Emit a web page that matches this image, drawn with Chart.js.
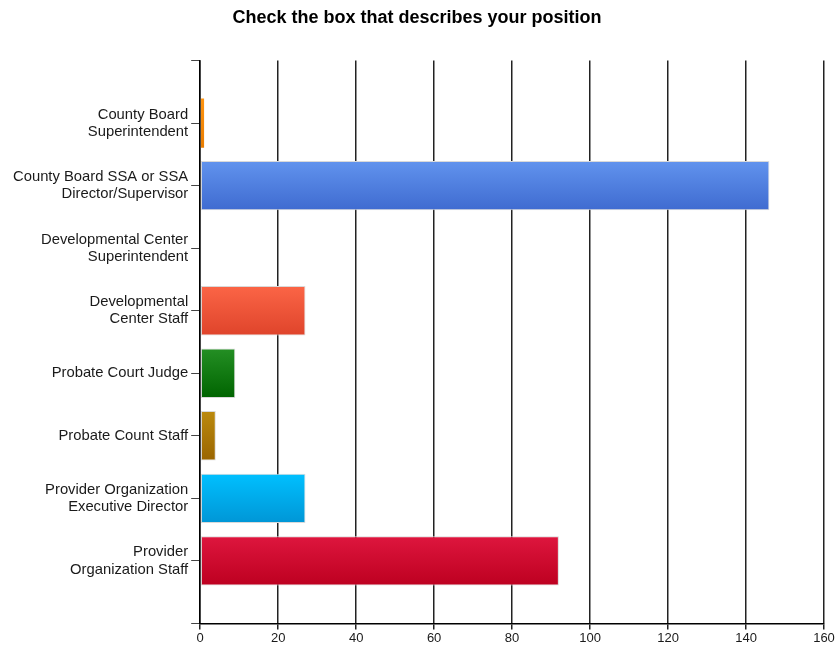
<!DOCTYPE html>
<html>
<head>
<meta charset="utf-8">
<title>Check the box that describes your position</title>
<script src="https://cdn.jsdelivr.net/npm/chart.js@4/dist/chart.umd.min.js"></script>
<style>
  html, body { margin: 0; padding: 0; background: #fff; }
  canvas { display: block; }
</style>
</head>
<body>
<canvas id="chart" width="838" height="647"></canvas>
<script>
// Survey responses: respondent position
const categories = [
  ['County Board', 'Superintendent'],
  ['County Board SSA or SSA', 'Director/Supervisor'],
  ['Developmental Center', 'Superintendent'],
  ['Developmental', 'Center Staff'],
  'Probate Court Judge',
  'Probate Count Staff',
  ['Provider Organization', 'Executive Director'],
  ['Provider', 'Organization Staff']
];
const counts = [1, 146, 0, 27, 9, 4, 27, 92];

// Value axis range
const xMin = 0;
const xMax = 160;
const xStep = 20;

// Per-bar gradient colours (top -> bottom)
const topColors = ['#ff9410', '#6193ee', '#f5f5f5', '#fb6546', '#248f24', '#bb8a0e', '#00c0ff', '#de163e'];
const bottomColors = ['#e87c00', '#3f6bd0', '#e0e0e0', '#df442b', '#006400', '#9a6500', '#0096d6', '#bd0020'];

// The category axis runs edge to edge with an empty slot at each end
const axisLabels = ['', ...categories, ''];
const axisData = [null, ...counts, null];

const BAR_PCT = 0.79;

function barGradient(ctx) {
  const i = ctx.dataIndex - 1;
  if (i < 0 || i >= counts.length) return 'transparent';
  const chart = ctx.chart;
  const ys = chart.scales && chart.scales.y;
  if (!chart.chartArea || !ys) return topColors[i];
  const yc = ys.getPixelForValue(ctx.dataIndex);
  const half = Math.abs(ys.getPixelForValue(1) - ys.getPixelForValue(0)) * BAR_PCT / 2;
  const g = chart.ctx.createLinearGradient(0, yc - half, 0, yc + half);
  g.addColorStop(0, topColors[i]);
  g.addColorStop(1, bottomColors[i]);
  return g;
}

// Thin bars get no outline so their fill stays visible
function barBorder(ctx) {
  const v = ctx.raw;
  if (!v) return 0;
  return v < 3 ? 0 : 1;
}

const FONT = "'Liberation Sans', Arial, Helvetica, sans-serif";

new Chart(document.getElementById('chart'), {
  type: 'bar',
  data: {
    labels: axisLabels,
    datasets: [{
      data: axisData,
      backgroundColor: barGradient,
      borderColor: '#d9d9d9',
      borderWidth: barBorder,
      borderSkipped: false,
      categoryPercentage: 1,
      barPercentage: BAR_PCT
    }]
  },
  options: {
    indexAxis: 'y',
    responsive: false,
    animation: false,
    devicePixelRatio: 1,
    layout: { padding: { left: 10, right: 14, top: 0, bottom: 0 } },
    plugins: {
      legend: { display: false },
      tooltip: { enabled: false },
      title: {
        display: true,
        text: 'Check the box that describes your position',
        color: '#000',
        font: { family: FONT, size: 18, weight: 'bold' },
        padding: { top: 7, bottom: 32 }
      }
    },
    scales: {
      x: {
        type: 'linear',
        min: xMin,
        max: xMax,
        ticks: {
          stepSize: xStep,
          color: '#1a1a1a',
          font: { family: FONT, size: 13 },
          padding: 1
        },
        grid: {
          color: '#222',
          lineWidth: 1.5,
          drawTicks: true,
          tickLength: 6,
          tickColor: '#222'
        },
        border: { display: true, color: '#000', width: 1.5 }
      },
      y: {
        type: 'category',
        offset: false,
        ticks: {
          autoSkip: false,
          color: '#1a1a1a',
          font: { family: FONT, size: 14.8, lineHeight: 1.17 },
          padding: 3
        },
        grid: {
          offset: false,
          drawOnChartArea: false,
          drawTicks: true,
          tickLength: 9,
          tickColor: '#444'
        },
        border: { display: true, color: '#000', width: 1.5 }
      }
    }
  }
});
</script>
</body>
</html>
